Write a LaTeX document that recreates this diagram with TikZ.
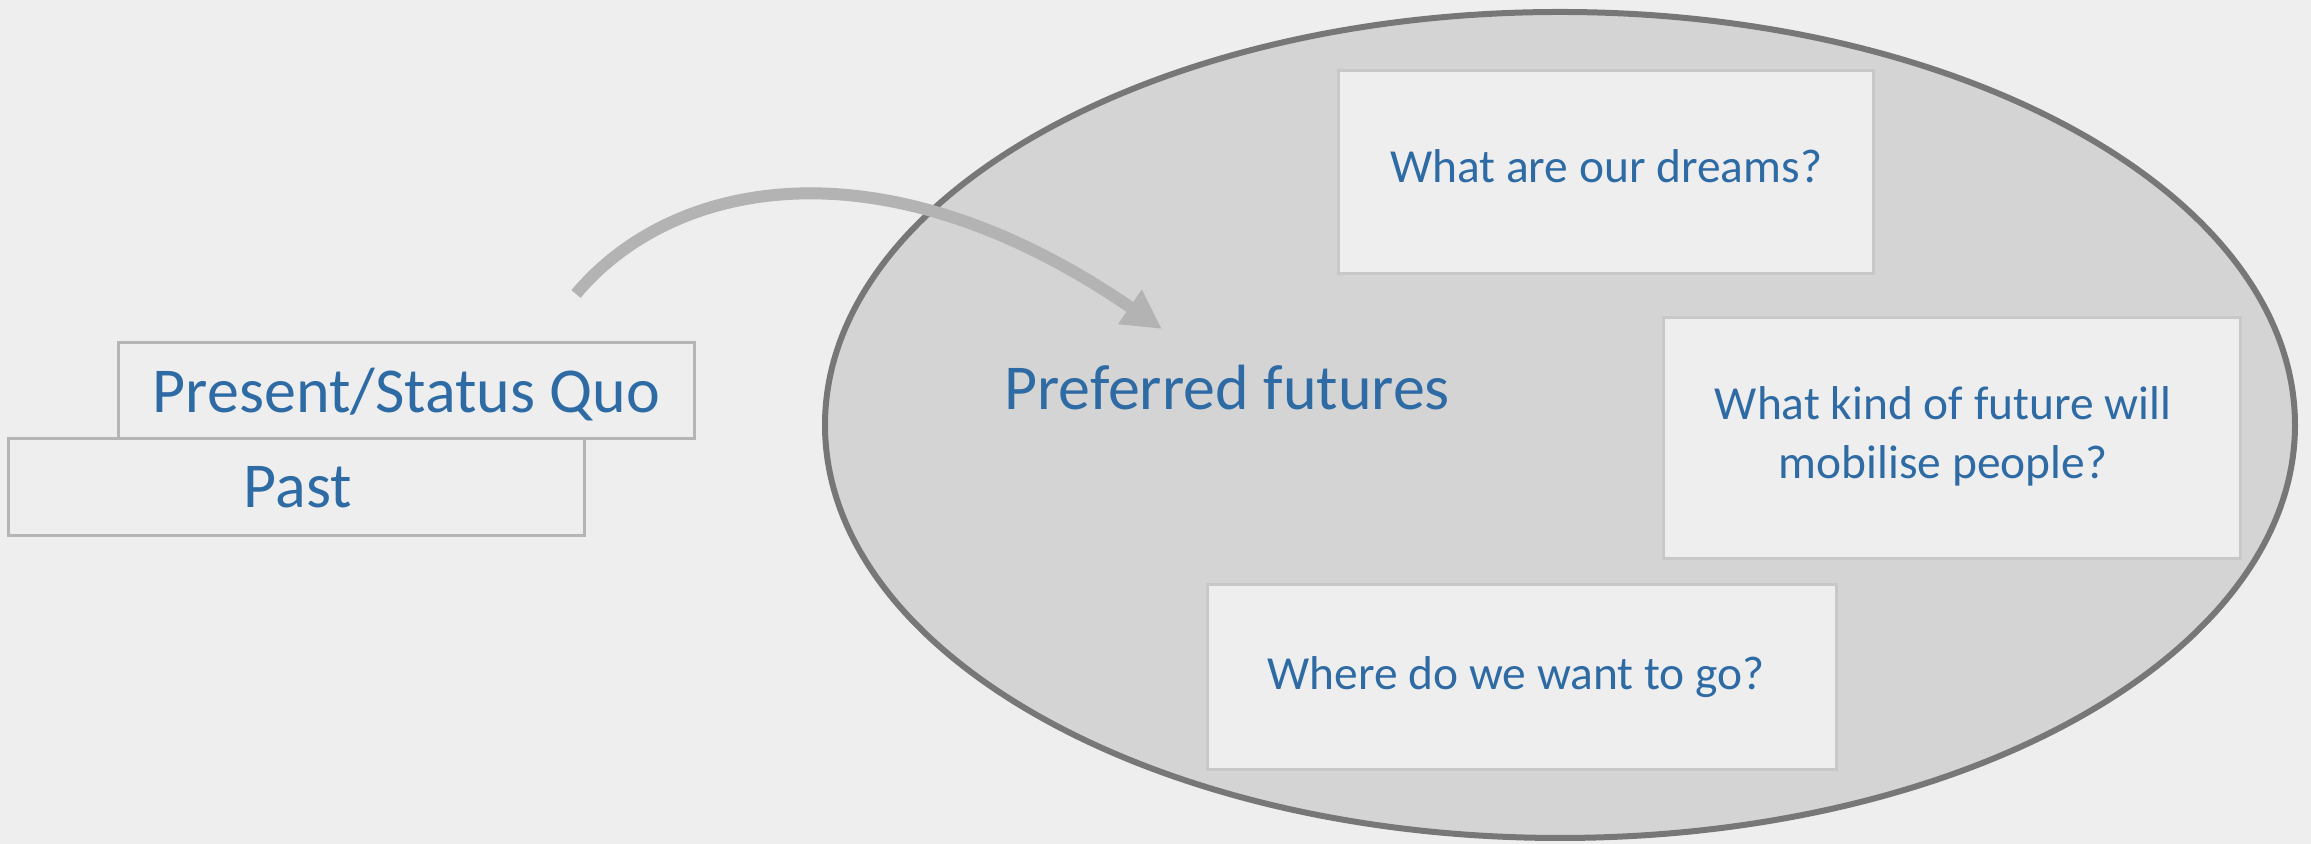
\documentclass[tikz,border=0pt]{standalone}
\usepackage{fontspec}
\setmainfont{Carlito}
\usetikzlibrary{arrows.meta}

\definecolor{canvas}{HTML}{EEEEEE}
\definecolor{blobfill}{HTML}{D4D4D4}
\definecolor{blobline}{HTML}{777777}
\definecolor{arrowgrey}{HTML}{B3B3B3}
\definecolor{tabline}{HTML}{B5B5B5}
\definecolor{cardline}{HTML}{C8C8C8}
\definecolor{textblue}{HTML}{2E6BA4}

\begin{document}
\begin{tikzpicture}[
  tab/.style={draw=tabline, line width=0.03cm, fill=canvas, rectangle, inner sep=0pt},
  card/.style={draw=cardline, line width=0.03cm, fill=canvas, rectangle, inner sep=0pt},
  bigtext/.style={text=textblue, anchor=base, inner sep=0pt, font=\fontsize{18.2}{22}\selectfont},
  smalltext/.style={text=textblue, anchor=base, inner sep=0pt, align=center, font=\fontsize{13.5}{17}\selectfont},
  leap/.style={draw=arrowgrey, line width=0.12cm, -{Triangle[width=0.39cm, length=0.39cm]}}
]
% Background
\useasboundingbox (0,0) rectangle (23.11,8.44);
\fill[canvas] (0,0) rectangle (23.11,8.44);

% Big ellipse
\draw[blobline, fill=blobfill, line width=0.06cm] (15.60,4.19) ellipse (7.35 and 4.13);

% Present + Past
\node[tab, minimum width=5.76cm, minimum height=0.96cm] (present) at (4.06,4.53) {};
\node[tab, minimum width=5.75cm, minimum height=0.97cm] (past) at (2.965,3.565) {};
\node[bigtext] (presentlabel) at (4.065,4.31) {Present/Status Quo};
\node[bigtext] (pastlabel) at (2.98,3.36) {Past};

% Questions inside the ellipse
\node[card, minimum width=5.35cm, minimum height=2.03cm] (dreams) at (16.055,6.715) {};
\node[card, minimum width=5.77cm, minimum height=2.41cm] (mobilise) at (19.515,4.055) {};
\node[card, minimum width=6.29cm, minimum height=1.85cm] (where) at (15.215,1.665) {};
\node[smalltext] (dreamslabel) at (16.06,6.61) {What are our dreams?};
% base anchor sits on the last line here
\node[smalltext] (mobiliselabel) at (19.43,3.65) {What kind of future will\\mobilise people?};
\node[smalltext] (wherelabel) at (15.16,1.54) {Where do we want to go?};

\node[bigtext] (preferred) at (12.27,4.34) {Preferred futures};

% Arrow
\coordinate (leapstart) at (5.76,5.50);
\coordinate (leapend) at (11.62,5.15);
\draw[leap] (leapstart) .. controls +(50:1.5) and +(145.5:3.4) .. (leapend);

\end{tikzpicture}
\end{document}
